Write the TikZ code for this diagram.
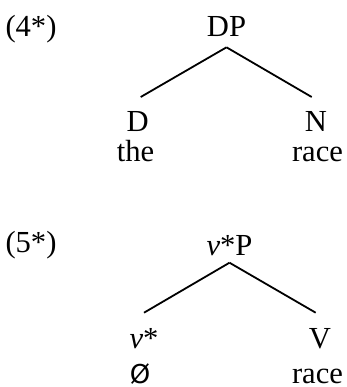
\documentclass[tikz,border=0pt]{standalone}
\usepackage{fontspec}
\setmainfont{Liberation Serif}
\newfontfamily\djv{DejaVu Sans}
\usetikzlibrary{calc}
\tikzset{
  lbl/.style={anchor=base, inner sep=0pt, font=\fontsize{15.3}{18}\selectfont},
  branch/.style={line width=0.9pt}
}
\begin{document}
\begin{tikzpicture}[x=0.5pt, y=-0.5pt]
\useasboundingbox (0,0) rectangle (347,387);
% (4*)
\node[lbl] (ex4) at (31,36) {(4*)};
\node[lbl] (DP) at (226.5,36) {DP};
\node[lbl] (D) at (137.8,131) {D};
\node[lbl] (the) at (135.5,161.7) {the};
\node[lbl] (N) at (316,131) {N};
\node[lbl] (race1) at (317.5,161.5) {race};
\draw[branch] ($(DP.base)+(0,11.3)$) -- ($(D.base)+(2.9,-34)$);
\draw[branch] ($(DP.base)+(0,11.3)$) -- ($(N.base)+(-4.3,-34)$);
% (5*)
\node[lbl] (ex5) at (31,252) {(5*)};
\node[lbl] (vP) at (229.5,255) {\textit{v}*P};
\node[lbl] (v) at (144,348) {\textit{v}*};
\node[lbl] (V) at (320,348) {V};
\node[lbl] (null) at (140,383) {\djv\fontsize{13}{15}\selectfont Ø};
\node[lbl] (race2) at (317.5,383) {race};
\draw[branch] ($(vP.base)+(0,7.7)$) -- ($(v.base)+(0,-35.3)$);
\draw[branch] ($(vP.base)+(0,7.7)$) -- ($(V.base)+(-4.3,-35.3)$);
\end{tikzpicture}
\end{document}
